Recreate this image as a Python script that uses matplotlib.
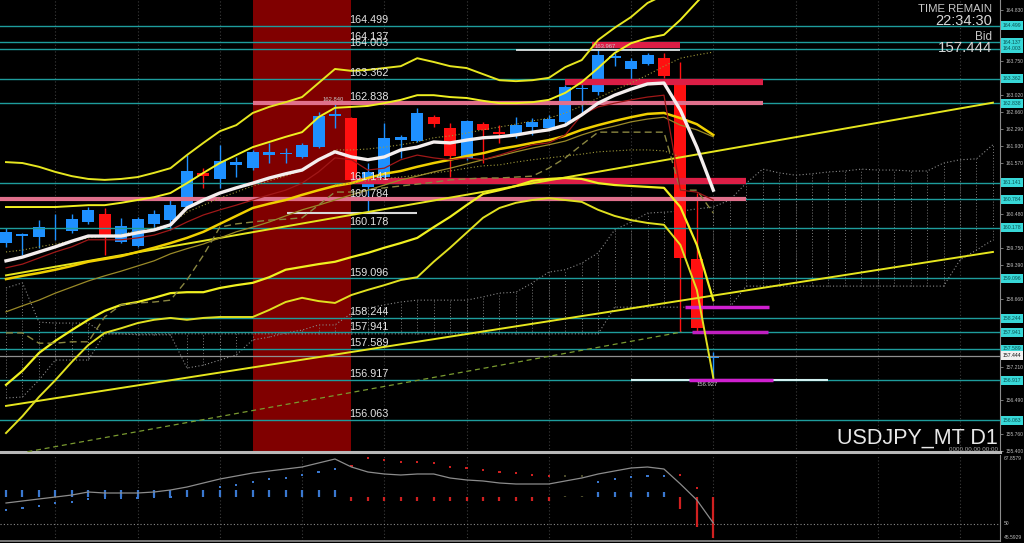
import numpy as np
import matplotlib
matplotlib.use("Agg")
import matplotlib.pyplot as plt
from matplotlib.transforms import blended_transform_factory

plt.rcParams['font.family'] = ['Liberation Sans', 'DejaVu Sans']

# ---------------- data ----------------
opens = [159.85,160.00,159.98,160.15,160.11,160.30,160.47,159.87,159.79,160.26,160.34,160.62,161.35,161.22,161.52,161.45,161.73,161.75,161.69,161.90,162.57,162.52,161.05,161.26,162.05,162.03,162.54,162.31,161.67,162.39,162.22,162.16,162.33,162.31,162.44,163.14,163.08,163.80,163.57,163.68,163.80,163.36,159.51,157.40]
highs = [160.17,160.07,160.34,160.47,160.47,160.62,160.60,160.38,160.41,160.56,160.77,161.73,161.45,161.95,161.69,161.84,161.99,161.88,161.99,162.65,162.84,162.54,161.56,162.42,162.16,162.74,162.59,162.42,162.48,162.44,162.37,162.54,162.52,162.59,163.23,163.29,163.97,163.91,163.80,163.91,163.91,163.72,160.92,157.52]
lows = [159.76,159.59,159.74,159.92,160.07,160.26,159.59,159.85,159.77,160.13,160.13,160.60,161.03,161.03,161.26,161.41,161.56,161.56,161.67,161.88,162.31,161.15,160.49,161.20,161.67,162.01,162.33,161.26,161.63,161.56,161.99,162.09,162.16,162.27,162.39,162.63,163.01,163.63,163.34,163.65,163.38,157.95,157.95,156.927]
closes = [160.09,160.04,160.19,160.17,160.36,160.56,159.98,160.21,160.36,160.47,160.66,161.39,161.28,161.60,161.58,161.80,161.80,161.76,161.95,162.57,162.61,161.20,161.37,162.09,162.12,162.63,162.39,161.71,162.46,162.27,162.18,162.37,162.44,162.50,163.19,163.16,163.87,163.85,163.74,163.87,163.42,159.53,158.03,157.444]

ma_white = [159.47,159.55,159.66,159.77,159.89,160.00,160.00,160.00,160.07,160.13,160.24,160.60,160.77,160.92,161.03,161.13,161.24,161.33,161.41,161.63,161.80,161.69,161.63,161.69,161.84,161.90,162.01,161.99,162.05,162.10,162.12,162.16,162.22,162.27,162.37,162.59,162.84,163.01,163.14,163.25,163.27,162.69,161.90,160.98]
ma_darkred = [159.32,159.40,159.53,159.66,159.77,159.92,159.92,159.92,159.96,160.02,160.13,160.30,160.45,160.56,160.66,160.77,160.88,160.98,161.13,161.37,161.67,161.63,161.41,161.45,161.63,161.73,161.67,161.63,161.67,161.63,161.73,161.84,161.95,161.99,162.16,162.59,162.76,162.84,162.91,162.97,163.01,160.98,160.94,160.77]
band_u3 = [161.58,161.56,161.48,161.37,161.28,161.22,161.20,161.22,161.26,161.35,161.45,161.73,161.99,162.24,162.37,162.63,162.76,162.86,162.97,163.27,163.57,163.53,163.55,163.59,163.63,163.80,163.72,163.63,163.59,163.46,163.33,163.31,163.33,163.38,163.61,163.76,164.19,164.45,164.68,164.98,165.15,165.36,165.58,165.79]
band_u2 = [160.62,160.62,160.62,160.62,160.64,160.66,160.66,160.71,160.77,160.83,160.92,161.13,161.35,161.56,161.73,161.90,162.01,162.12,162.22,162.54,162.74,162.76,162.78,162.84,162.91,163.01,163.01,162.97,162.95,162.89,162.84,162.84,162.86,162.91,163.06,163.29,163.59,163.91,164.12,164.23,164.30,164.62,165.00,165.36]
ma_gold = [159.08,159.15,159.21,159.28,159.36,159.45,159.51,159.57,159.66,159.75,159.85,159.96,160.09,160.26,160.43,160.60,160.69,160.77,160.88,160.98,161.07,161.13,161.24,161.33,161.39,161.48,161.56,161.63,161.71,161.77,161.86,161.92,161.99,162.05,162.14,162.27,162.37,162.46,162.54,162.61,162.63,162.52,162.39,162.16]
ma_olive = [158.38,158.51,158.63,158.78,158.91,159.04,159.15,159.25,159.36,159.47,159.62,159.73,159.83,159.96,160.09,160.19,160.30,160.43,160.56,160.66,160.77,160.88,160.98,161.09,161.20,161.28,161.37,161.45,161.54,161.63,161.71,161.80,161.88,161.95,162.03,162.16,162.27,162.35,162.44,162.50,162.54,162.37,162.27,162.12]
band_l2 = [156.82,157.12,157.50,157.76,157.99,158.21,158.40,158.53,158.59,158.68,158.78,158.80,158.80,158.89,158.95,159.00,159.12,159.28,159.34,159.40,159.45,159.55,159.64,159.75,159.85,159.96,160.19,160.41,160.66,160.90,160.98,161.07,161.18,161.22,161.24,161.22,161.13,161.09,161.07,161.05,161.03,160.62,159.81,158.63]
band_l3 = [155.79,156.15,156.56,156.92,157.31,157.67,157.93,158.03,158.14,158.21,158.25,158.21,158.25,158.27,158.27,158.27,158.42,158.59,158.68,158.61,158.57,158.74,158.85,158.95,159.06,159.12,159.45,159.75,160.07,160.39,160.60,160.71,160.77,160.81,160.77,160.73,160.56,160.43,160.34,160.28,160.24,159.81,158.85,156.97]
kijun = [157.93,157.93,157.71,157.71,157.74,157.74,158.27,158.53,158.57,158.59,158.63,159.06,159.59,160.19,160.26,160.30,160.34,160.36,160.39,160.66,160.94,160.94,160.98,161.03,161.07,161.11,161.15,161.20,161.22,161.24,161.24,161.26,161.28,161.45,161.67,161.95,162.22,162.22,162.22,162.22,162.22,160.98,160.98,160.49]
dotted_upper = [159.66,159.70,159.77,159.83,159.89,159.96,160.00,160.04,160.11,160.17,160.26,160.51,160.66,160.81,160.94,161.07,161.18,161.28,161.41,161.63,161.84,161.84,161.86,161.90,161.95,162.01,162.10,162.14,162.20,162.27,162.33,162.39,162.46,162.52,162.63,162.78,162.95,163.12,163.27,163.44,163.63,163.80,163.87,163.93]
dotted_mid_start = 20
dotted_mid = [161.09,161.13,161.18,161.22,161.26,161.30,161.35,161.39,161.45,161.50,161.52,161.58,161.63,161.67,161.71,161.75,161.80,161.82,161.84,161.84,161.82,161.69]
span_a = [158.89,159.00,158.16,158.14,158.14,158.14,157.91,157.91,157.89,157.89,157.89,157.18,157.24,157.35,157.46,157.78,157.84,157.93,157.99,158.10,158.10,158.35,158.46,158.53,158.59,158.63,158.63,158.63,158.63,158.70,158.78,158.80,159.00,159.23,159.28,159.42,159.64,160.13,160.30,160.49,160.51,160.53,160.58,160.62,160.77,161.13,161.43,161.35,161.30,161.33,161.37,161.39,161.43,161.41,161.41,161.39,161.39,161.56,161.63,161.65,161.95]
span_b = [156.54,156.56,156.92,157.35,157.35,157.35] + [157.91]*31 + [158.48]*8 + [158.93]*13 + [159.49,159.70,159.92]

levels = [164.499,164.137,164.003,163.362,162.838,161.141,160.784,160.178,159.096,158.244,157.941,157.589,156.917,156.063]
level_labels = ["164.499","164.137","164.003","163.362","162.838","161.141","160.784","160.178","159.096","158.244","157.941","157.589","156.917","156.063"]
bid = 157.444
axis_ticks = [164.830,164.470,164.110,163.750,163.390,163.020,162.660,162.290,161.930,161.570,161.200,160.840,160.480,160.120,159.750,159.390,159.030,158.660,158.300,157.940,157.580,157.210,156.850,156.490,156.120,155.760,155.400]

# zones: (price, start bar, end bar, colour, width)
zones = [(164.08,35.6,41.0,'#dc1e46',4.5),(163.967,31.0,41.0,'#f0f0f0',1.2),
         (163.30,34.0,46.0,'#dc1e46',4.5),(162.838,15.0,46.0,'#e0708c',3.0),
         (161.17,21.0,45.0,'#dc1e46',4.5),(160.784,-0.4,45.0,'#e0708c',3.0),
         (160.49,17.1,25.0,'#d8d8d8',1.5),(158.48,41.3,46.4,'#d020d0',2.5),
         (157.95,41.7,46.3,'#c020c0',2.5),(156.92,38.0,50.0,'#d0f0f0',1.5),
         (156.92,41.5,46.6,'#d020d0',2.5)]
trend1 = ((0, 156.37), (60, 159.66))
trend2 = ((0, 159.16), (60, 162.85))
trend3 = ((1.3, 155.39), (41.1, 157.95))
red_zone = (15.0, 21.0)

ind_line = [55.43,55.95,56.47,56.98,57.50,58.28,58.02,58.02,58.02,58.28,58.80,59.57,60.61,61.64,62.42,63.20,63.72,64.23,64.75,65.79,66.82,64.75,63.46,62.94,62.68,62.94,62.94,61.90,61.39,61.13,60.61,60.35,60.35,60.35,61.13,61.90,62.94,63.72,64.49,64.75,64.23,60.35,56.21,50.25]
ind_dots = [53.62,54.14,54.66,55.43,55.69,56.47,56.73,56.73,56.73,56.98,56.98,57.76,58.54,59.57,60.09,60.87,61.64,61.90,62.68,63.46,64.23,65.01,67.08,66.56,66.05,66.05,65.79,64.75,64.49,63.97,63.46,63.20,62.68,62.42,62.42,62.42,60.87,61.64,62.16,62.42,62.42,62.68,59.31,np.nan]
ind_bar_top = [58.80]*21 + [56.98]*13 + [57.20]*2 + [58.28]*5 + [56.98]*3
ind_bar_bot = [56.98]*21 + [55.95]*13 + [56.90]*2 + [56.98]*5 + [53.88,49.22,46.37]
ind_sig = ['b']*21 + ['r']*13 + ['n']*2 + ['b']*5 + ['r']*3
ind_min, ind_max, ind_mid = 45.5929, 67.8579, 50.0

# ---------------- figure ----------------
W, H = 1024, 543
fig = plt.figure(figsize=(W/100, H/100), dpi=100, facecolor='black')
ax = fig.add_axes([0, 1-452/H, 1000/W, 452/H], facecolor='black')
ax2 = fig.add_axes([0, 1-541/H, 1000/W, 86/H], facecolor='black', sharex=ax)

n = len(opens)
x = np.arange(n)
xmin, xmax = -0.365, 60.43
ax.set_xlim(xmin, xmax)
ax.set_ylim(155.385, 165.044)
ax2.set_ylim(ind_min, ind_max)

for a in (ax, ax2):
    for g in range(3, 61, 5):
        a.axvline(g, color='#3c3c3c', lw=0.8, ls=(0, (1, 2)), zorder=0)
    a.set_xticks([])
    for s in ('top', 'left'):
        a.spines[s].set_visible(False)
    a.spines['right'].set_color('#8c8c8c')
    a.spines['right'].set_linewidth(0.8)
ax.spines['bottom'].set_color('#b8b8b8')
ax.spines['bottom'].set_linewidth(2.2)
ax2.spines['bottom'].set_color('#8c8c8c')
ax2.spines['bottom'].set_linewidth(1.2)

# red zone
ax.axvspan(red_zone[0], red_zone[1], color='#800000', zorder=0.5, lw=0)

# ichimoku cloud
xc = np.arange(len(span_a))
ax.plot(xc, span_a, color='#8a8a8a', lw=0.8, ls=(0, (1, 2)), zorder=1)
ax.plot(xc, span_b, color='#8a8a8a', lw=0.8, ls=(0, (1, 2)), zorder=1)
ax.vlines(xc, np.minimum(span_a, span_b), np.maximum(span_a, span_b),
          colors='#7a7a7a', lw=0.7, linestyles=(0, (1, 2)), zorder=1)

# candles
col = ['#1e90ff' if c >= o else '#ff1010' for o, c in zip(opens, closes)]
ax.vlines(x, lows, highs, colors=col, lw=1.0, zorder=2)
bot = np.minimum(opens, closes)
hgt = np.maximum(np.abs(np.array(closes) - np.array(opens)), 0.02)
ax.bar(x, hgt, bottom=bot, width=0.73, color=col, lw=0, zorder=2)

# horizontal levels
for lv in levels:
    ax.axhline(lv, color='#1e9c9c', lw=1.0, zorder=3)
ax.axhline(bid, color='#909090', lw=0.9, zorder=3)

# zones
for p, s, e, c, w in zones:
    ax.plot([s, e], [p, p], color=c, lw=w, solid_capstyle='butt', zorder=3.5)

# trendlines
ax.plot(*zip(*trend1), color='#e6e61e', lw=1.4, zorder=4)
ax.plot(*zip(*trend2), color='#e6e61e', lw=1.4, zorder=4)
ax.plot(*zip(*trend3), color='#7a9a30', lw=0.9, ls=(0, (4, 3)), zorder=4)

# indicator lines
ax.plot(x, band_u3, color='#e6e620', lw=1.4, zorder=4)
ax.plot(x, band_u2, color='#f0f020', lw=1.4, zorder=4)
ax.plot(x, band_l2, color='#f0f020', lw=1.6, zorder=4)
ax.plot(x, band_l3, color='#e0e020', lw=1.4, zorder=4)
ax.plot(x, ma_olive, color='#9a8a28', lw=0.9, zorder=4)
ax.plot(x, ma_gold, color='#f0d000', lw=1.8, zorder=4)
ax.plot(x, kijun, color='#8a8640', lw=1.0, ls=(0, (5, 3)), zorder=4)
ax.plot(x, dotted_upper, color='#a09a3a', lw=0.8, ls=(0, (1, 2)), zorder=4)
ax.plot(np.arange(dotted_mid_start, dotted_mid_start + len(dotted_mid)), dotted_mid,
        color='#a09a3a', lw=0.8, ls=(0, (1, 2)), zorder=4)
ax.plot(x, ma_darkred, color='#a01818', lw=0.9, zorder=4)
ax.plot(x, ma_white, color='#f4eeee', lw=2.4, zorder=4.5)

# level labels on chart
for lv, lb in zip(levels, level_labels):
    ax.annotate(lb, (20.85, lv), xytext=(0, 0.6), textcoords='offset points',
                va='bottom', ha='left', fontsize=7.8, color='#e4e4e4', zorder=6)

# small price tags
ax.annotate('162.840', (20, highs[20]), xytext=(-1, 1), textcoords='offset points',
            ha='center', va='bottom', fontsize=4.2, color='#c8c8c8', zorder=6)
ax.annotate('163.967', (36.4, highs[36]), xytext=(0, 1), textcoords='offset points',
            ha='center', va='bottom', fontsize=4.2, color='#c8c8c8', zorder=6)
ax.annotate('156.927', (42.6, lows[43]), xytext=(0, -1.5), textcoords='offset points',
            ha='center', va='top', fontsize=4.2, color='#c8c8c8', zorder=6)

# right axis (ticks hidden under level boxes are dropped)
marks = levels + [bid]
vis_ticks = [t for t in axis_ticks if min(abs(t - m) for m in marks) > 0.09]
ax.yaxis.tick_right()
ax.set_yticks(vis_ticks)
ax.set_yticklabels([f"{t:.3f}" for t in vis_ticks])
ax.tick_params(axis='y', direction='out', length=2.5, width=0.6, color='#8c8c8c',
               labelsize=3.6, labelcolor='#b8b8b8', pad=1.5)
tr = blended_transform_factory(ax.transAxes, ax.transData)
for lv, lb in zip(levels, level_labels):
    ax.text(1.003, lv, lb, transform=tr, ha='left', va='center', fontsize=3.7,
            color='#0a5050', clip_on=False, zorder=10,
            bbox=dict(boxstyle='square,pad=0.35', fc='#38d8d8', ec='none'))
ax.text(1.003, bid, f"{bid:.3f}", transform=tr, ha='left', va='center', fontsize=3.7,
        color='#101010', clip_on=False, zorder=10,
        bbox=dict(boxstyle='square,pad=0.35', fc='#f0f0f0', ec='none'))

# indicator panel
ax2.axhline(ind_mid, color='#8a8a8a', lw=0.8, ls=(0, (1, 2)), zorder=1)
ax2.plot(x, ind_line, color='#8c8c8c', lw=0.9, zorder=3)
cmap = {'b': '#3a78d0', 'r': '#d02020', 'n': '#4a4a2a'}
ax2.vlines(x, ind_bar_bot, ind_bar_top, colors=[cmap[s] for s in ind_sig], lw=1.6, zorder=2)
ax2.scatter(x, ind_dots, s=2.5, marker='s', c=[cmap[s] for s in ind_sig], lw=0, zorder=2)
ax2.set_yticks([])
ax2.tick_params(axis='y', length=0)
tr2 = blended_transform_factory(ax2.transAxes, ax2.transData)
ax2.text(1.004, ind_max - 0.3, '67.8579', transform=tr2, ha='left', va='top',
         fontsize=3.6, color='#b8b8b8', clip_on=False)
ax2.text(1.004, ind_mid, '50', transform=tr2, ha='left', va='center',
         fontsize=3.6, color='#b8b8b8', clip_on=False)
ax2.text(1.004, ind_min + 0.3, '45.5929', transform=tr2, ha='left', va='bottom',
         fontsize=3.6, color='#b8b8b8', clip_on=False)

# overlay texts
fig.text(992/W, 1-4/H, 'TIME REMAIN', ha='right', va='top', fontsize=8.2, color='#c8c8c8')
fig.text(992/W, 1-14/H, '22:34:30', ha='right', va='top', fontsize=10.5, color='#d8d8d8')
fig.text(992/W, 1-31/H, 'Bid', ha='right', va='top', fontsize=8.5, color='#c8c8c8')
fig.text(992/W, 1-41/H, '157.444', ha='right', va='top', fontsize=10.8, color='#d8d8d8')
fig.text(998/W, 1-449/H, 'USDJPY_MT D1', ha='right', va='bottom', fontsize=15.5, color='#e8e8e8')
fig.text(998/W, 1-452/H, '0000.00.00 00:00', ha='right', va='bottom', fontsize=4.5, color='#a8a8a8')

fig.savefig('out.png', dpi=100, facecolor='black')
